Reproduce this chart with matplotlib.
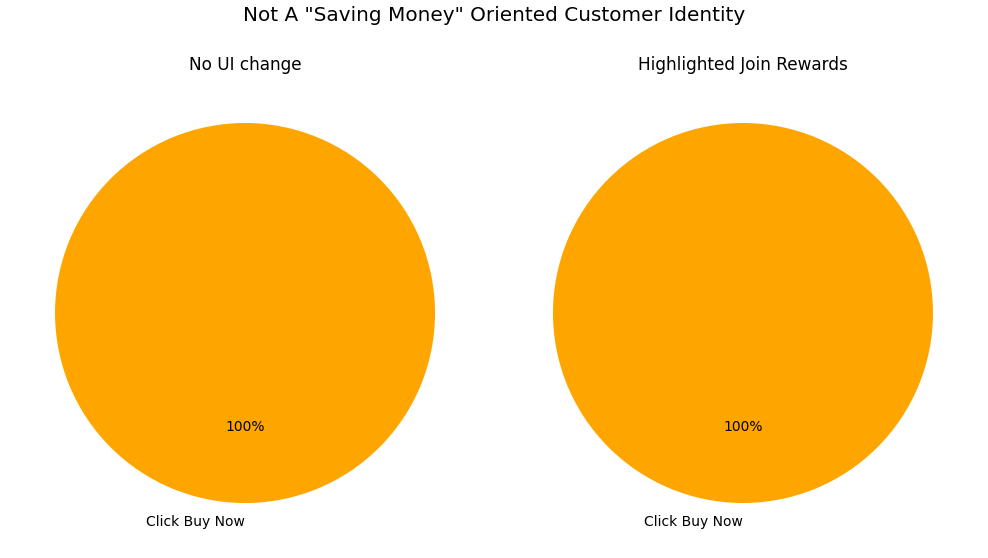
import matplotlib
matplotlib.use('Agg')
import matplotlib.pyplot as plt

# data
titles = ['No UI change', 'Highlighted Join Rewards']
labels = ['Click Buy Now']
values_no_change = [100]
values_join = [100]
colors = ['orange']

fig = plt.figure(figsize=(9.88, 5.58), dpi=100)
ax1 = fig.add_axes([0.0076, 0.0134, 0.4808, 0.8513])
ax2 = fig.add_axes([0.5116, 0.0134, 0.4808, 0.8513])
for ax, vals, t in zip([ax1, ax2], [values_no_change, values_join], titles):
    wedges, texts, autotexts = ax.pie(vals, labels=labels, colors=colors,
                                      autopct='%1.0f%%', startangle=90,
                                      textprops={'fontsize': 10})
    texts[0].set_ha('right')
    ax.set_title(t, fontsize=12.2, pad=3.8)

fig.suptitle('Not A "Saving Money" Oriented Customer Identity', fontsize=14.4, y=0.972, va='center')
plt.savefig('out.png')
